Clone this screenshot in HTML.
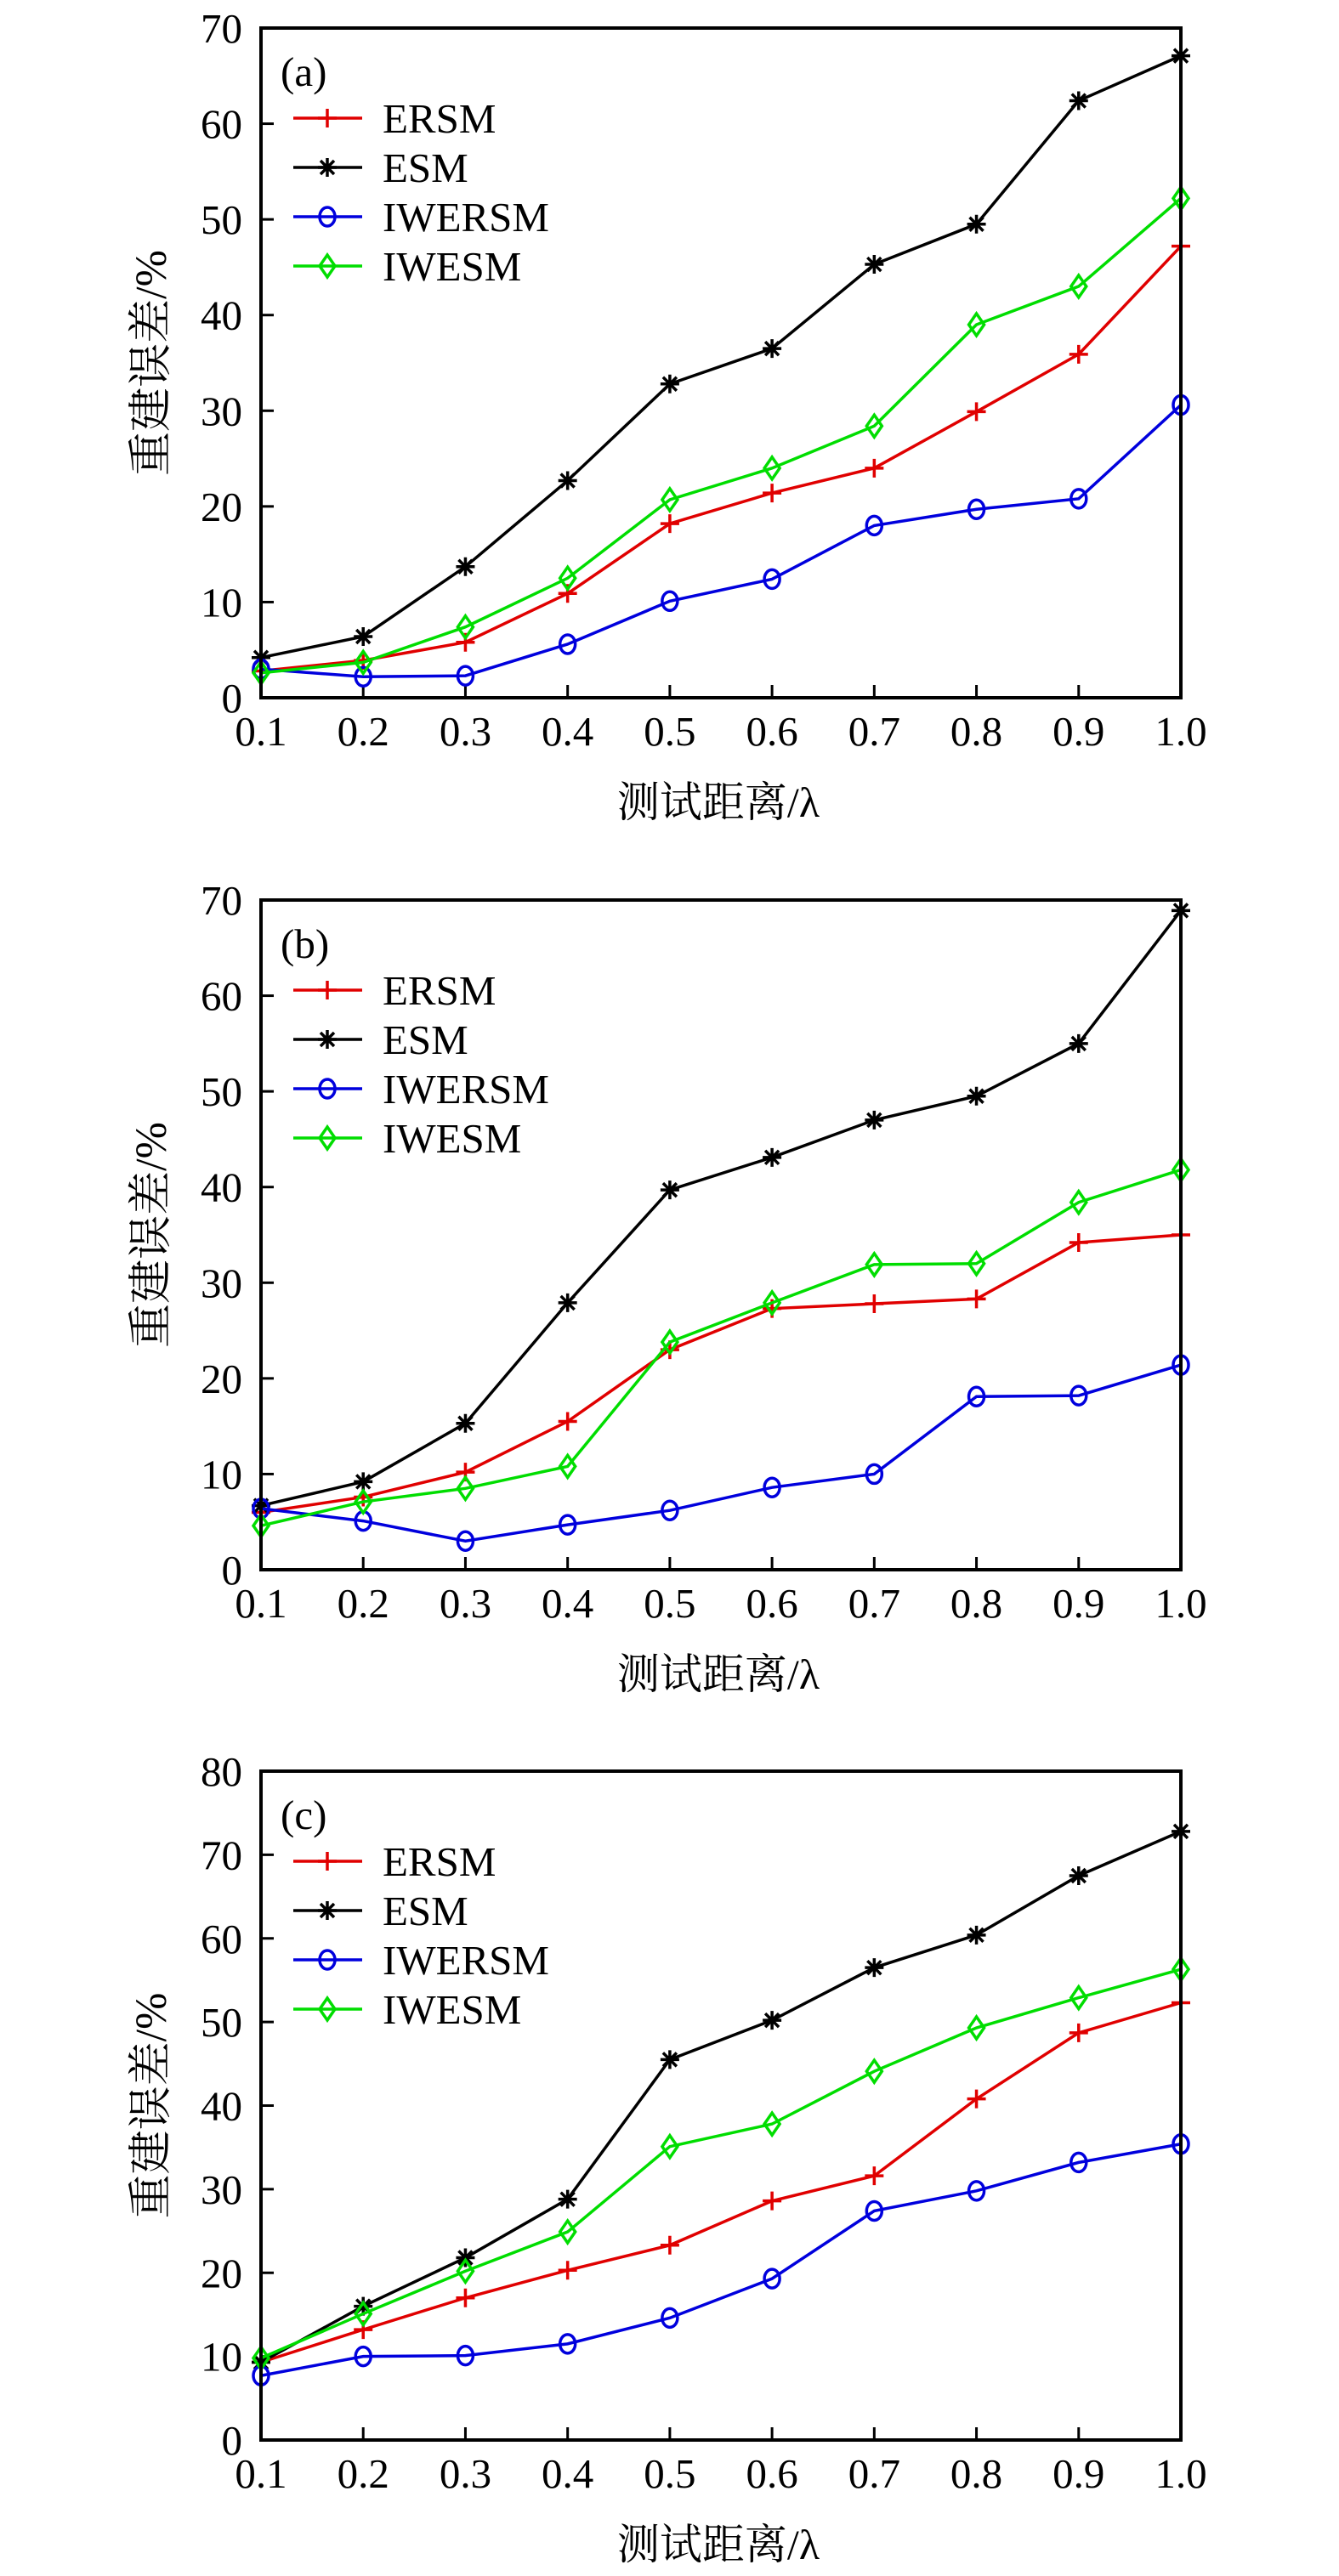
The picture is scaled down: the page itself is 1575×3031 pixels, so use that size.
<!DOCTYPE html>
<html><head><meta charset="utf-8">
<style>
html,body{margin:0;padding:0;background:#fff;}
svg{display:block;}
text{font-family:"Liberation Serif","Noto Serif CJK SC",serif;fill:#000;}
.cjk{font-family:"Liberation Serif","Noto Serif CJK SC","Noto Sans CJK SC",serif;}
</style></head>
<body>
<svg id="fig" width="1575" height="3031" viewBox="0 0 1575 3031" xmlns="http://www.w3.org/2000/svg"></svg>
<script>
const categories = [0.1,0.2,0.3,0.4,0.5,0.6,0.7,0.8,0.9,1.0];
const xTickLabels = ["0.1","0.2","0.3","0.4","0.5","0.6","0.7","0.8","0.9","1.0"];
const seriesNames = ["ERSM","ESM","IWERSM","IWESM"];
const panelLabels = ["(a)","(b)","(c)"];
const yMaxes = [70,70,80];

const aERSM   = [2.8,3.9,5.8,10.9,18.2,21.4,24.0,29.9,35.9,47.2];
const aESM    = [4.2,6.4,13.7,22.7,32.8,36.5,45.3,49.5,62.4,67.1];
const aIWERSM = [3.0,2.2,2.3,5.6,10.1,12.4,18.0,19.7,20.8,30.6];
const aIWESM  = [2.6,3.7,7.4,12.5,20.7,24.0,28.4,39.0,43.0,52.2];

const bERSM   = [6.0,7.6,10.2,15.5,23.0,27.3,27.8,28.3,34.2,35.0];
const bESM    = [6.7,9.2,15.3,27.9,39.7,43.1,47.0,49.5,55.0,68.9];
const bIWERSM = [6.4,5.1,3.0,4.7,6.2,8.6,10.0,18.1,18.2,21.4];
const bIWESM  = [4.6,7.1,8.5,10.8,23.8,27.9,31.9,32.0,38.4,41.8];

const cERSM   = [9.3,13.2,17.0,20.3,23.3,28.6,31.6,40.8,48.7,52.3];
const cESM    = [9.3,16.0,21.8,28.8,45.5,50.2,56.5,60.4,67.5,72.8];
const cIWERSM = [7.7,10.0,10.1,11.5,14.6,19.3,27.4,29.8,33.2,35.4];
const cIWESM  = [9.8,15.1,20.2,24.9,35.1,37.8,44.1,49.3,52.9,56.3];

const panelData = [[aERSM,aESM,aIWERSM,aIWESM],[bERSM,bESM,bIWERSM,bIWESM],[cERSM,cESM,cIWERSM,cIWESM]];

const colors = ["#e00000","#000000","#0000dd","#00dd00"];
const markers = ["plus","star","circle","diamond"];
const frames = [{top:33,bottom:821},{top:1059,bottom:1847},{top:2084,bottom:2871}];
const LEFT=307, RIGHT=1389;
const NS="http://www.w3.org/2000/svg";
const svg=document.getElementById('fig');

function mk(tag,attrs,parent){const e=document.createElementNS(NS,tag);for(const k in attrs)e.setAttribute(k,attrs[k]);(parent||svg).appendChild(e);return e;}

function drawMarker(g,type,x,y,color){
  const r=11;
  if(type==="plus"){
    mk('path',{d:`M${x-r} ${y}H${x+r}M${x} ${y-r}V${y+r}`,stroke:color,'stroke-width':3.5,fill:'none'},g);
  }else if(type==="star"){
    mk('path',{d:`M${x-r} ${y}H${x+r}M${x} ${y-r}V${y+r}M${x-8} ${y-8}L${x+8} ${y+8}M${x-8} ${y+8}L${x+8} ${y-8}`,stroke:color,'stroke-width':3.5,fill:'none'},g);
  }else if(type==="circle"){
    mk('ellipse',{cx:x,cy:y,rx:9,ry:11,stroke:color,'stroke-width':3.5,fill:'none'},g);
  }else{
    mk('path',{d:`M${x} ${y-13}L${x+9} ${y}L${x} ${y+13}L${x-9} ${y}Z`,stroke:color,'stroke-width':3.5,fill:'none'},g);
  }
}

panelData.forEach((series,p)=>{
  const f=frames[p], yMax=yMaxes[p];
  const xS=v=>LEFT+(v-categories[0])/(categories[categories.length-1]-categories[0])*(RIGHT-LEFT);
  const yS=v=>f.bottom-v/yMax*(f.bottom-f.top);
  const g=mk('g',{});
  
  

  for(let v=0;v<=yMax;v+=10){
    const y=yS(v);
    if(v>0&&v<yMax){
      const t=mk('line',{x1:LEFT,y1:y,x2:LEFT+15,y2:y,stroke:'#000','stroke-width':3},g);
      
      
    }
    const tl=mk('text',{x:285,y:y+17,'font-size':49,'text-anchor':'end'},g);
    tl.textContent=String(v);
    
    
  }
  categories.forEach((c,i)=>{
    const x=xS(c);
    if(i>0&&i<categories.length-1){
      const t=mk('line',{x1:x,y1:f.bottom,x2:x,y2:f.bottom-15,stroke:'#000','stroke-width':3},g);
      
      
    }
    const tl=mk('text',{x:x,y:f.bottom+56,'font-size':49,'text-anchor':'middle'},g);
    tl.textContent=xTickLabels[i];
    
    
  });

  series.forEach((vals,s)=>{
    const sg=mk('g',{},g);
    
    
    const pts=vals.map((v,i)=>xS(categories[i])+','+yS(v)).join(' ');
    mk('polyline',{points:pts,fill:'none',stroke:colors[s],'stroke-width':3.5},sg);
    vals.forEach((v,i)=>drawMarker(sg,markers[s],xS(categories[i]),yS(v),colors[s]));
  });

  const fr=mk('rect',{x:LEFT,y:f.top,width:RIGHT-LEFT,height:f.bottom-f.top,fill:'none',stroke:'#000','stroke-width':4},g);
  
  

  const pl=mk('text',{x:330,y:f.top+68,'font-size':49},g);
  pl.textContent=panelLabels[p];
  
  

  const lg=mk('g',{},g);
  
  
  seriesNames.forEach((n,s)=>{
    const y=f.top+106+s*58;
    const e=mk('g',{},lg);
    
    
    mk('line',{x1:345,y1:y,x2:426,y2:y,stroke:colors[s],'stroke-width':3.5},e);
    drawMarker(e,markers[s],385,y,colors[s]);
    const t=mk('text',{x:450,y:y+17,'font-size':49},e);
    t.textContent=n;
  });

  const xt=mk('text',{x:845,y:f.bottom+140,'font-size':50,'text-anchor':'middle','class':'cjk'},g);
  xt.textContent='测试距离/λ';
  
  
  const cy=(f.top+f.bottom)/2;
  const yt=mk('text',{x:0,y:0,'font-size':52,'text-anchor':'middle','class':'cjk',transform:`translate(195,${cy}) rotate(-90)`},g);
  yt.textContent='重建误差/%';
  
  
});
</script>
</body></html>
